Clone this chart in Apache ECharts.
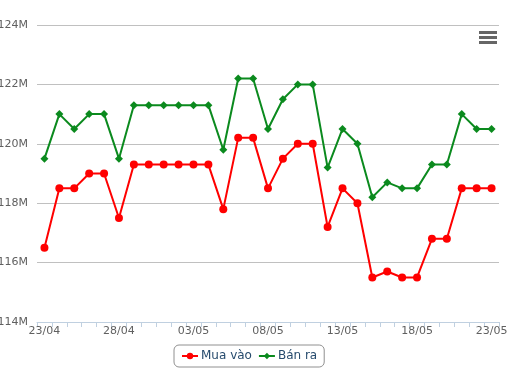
<!DOCTYPE html>
<html>
<head>
<meta charset="utf-8">
<script src="https://cdn.jsdelivr.net/npm/echarts@6/dist/echarts.min.js"></script>
<style>
  html, body { margin: 0; padding: 0; background: #fff; }
  #chart { width: 520px; height: 378px; }
</style>
</head>
<body>
<div id="chart"></div>
<script>
// ngày 23/04 -> 23/05
const categories = [
  "23/04", "24/04", "25/04", "26/04", "27/04", "28/04", "29/04", "30/04",
  "01/05", "02/05", "03/05", "04/05", "05/05", "06/05", "07/05", "08/05",
  "09/05", "10/05", "11/05", "12/05", "13/05", "14/05", "15/05", "16/05",
  "17/05", "18/05", "19/05", "20/05", "21/05", "22/05", "23/05",
];

// giá, đơn vị triệu (M)
const muaVao = [
  116.5, 118.5, 118.5, 119.0, 119.0, 117.5, 119.3, 119.3,
  119.3, 119.3, 119.3, 119.3, 117.8, 120.2, 120.2, 118.5,
  119.5, 120.0, 120.0, 117.2, 118.5, 118.0, 115.5, 115.7,
  115.5, 115.5, 116.8, 116.8, 118.5, 118.5, 118.5,
];
const banRa = [
  119.5, 121.0, 120.5, 121.0, 121.0, 119.5, 121.3, 121.3,
  121.3, 121.3, 121.3, 121.3, 119.8, 122.2, 122.2, 120.5,
  121.5, 122.0, 122.0, 119.2, 120.5, 120.0, 118.2, 118.7,
  118.5, 118.5, 119.3, 119.3, 121.0, 120.5, 120.5,
];

const Y_MIN = 114;
const Y_MAX = 124;
const Y_STEP = 2;

const chart = echarts.init(document.getElementById("chart"), null, { renderer: "canvas" });

const labelFont = {
  color: "#606060",
  fontSize: 11,
  fontFamily: "DejaVu Sans",
};

chart.setOption({
  animation: false,
  backgroundColor: "#fff",
  grid: { left: 37, right: 21, top: 25, bottom: 56, outerBoundsMode: "none", containLabel: false },
  legend: {
    left: 174,
    top: 345,
    padding: [5, 7, 5, 7],
    borderColor: "#909090",
    borderWidth: 1,
    borderRadius: 5,
    itemWidth: 16,
    itemHeight: 8,
    itemGap: 6,
    textStyle: { color: "#274b6d", fontSize: 12, fontFamily: "DejaVu Sans", padding: [0, 0, 0, -2] },
    data: ["Mua vào", "Bán ra"],
  },
  xAxis: {
    type: "category",
    boundaryGap: true,
    data: categories,
    axisLine: { lineStyle: { color: "#C0D0E0", width: 1 } },
    axisTick: { show: true, interval: 0, length: 5, lineStyle: { color: "#C0D0E0" } },
    axisLabel: { ...labelFont, interval: 4, margin: 4 },
    splitLine: { show: false },
  },
  yAxis: {
    type: "value",
    min: Y_MIN,
    max: Y_MAX,
    interval: Y_STEP,
    axisLine: { show: false },
    axisTick: { show: false },
    axisLabel: {
      ...labelFont,
      margin: 9,
      padding: [6, 0, 0, 0],
      formatter: (v) => v + "M",
    },
    splitLine: { lineStyle: { color: "#C0C0C0", width: 1 } },
  },
  graphic: [
    { type: "rect", shape: { x: 479, y: 31, width: 18, height: 3 }, style: { fill: "#666" } },
    { type: "rect", shape: { x: 479, y: 36, width: 18, height: 3 }, style: { fill: "#666" } },
    { type: "rect", shape: { x: 479, y: 41, width: 18, height: 3 }, style: { fill: "#666" } },
  ],
  series: [
    {
      name: "Mua vào",
      type: "line",
      data: muaVao,
      symbol: "circle",
      symbolSize: 8,
      showAllSymbol: true,
      itemStyle: { color: "#ff0000" },
      lineStyle: { color: "#ff0000", width: 2 },
    },
    {
      name: "Bán ra",
      type: "line",
      data: banRa,
      symbol: "diamond",
      symbolSize: 8,
      showAllSymbol: true,
      itemStyle: { color: "#0b8a1e" },
      lineStyle: { color: "#0b8a1e", width: 2 },
    },
  ],
});
</script>
</body>
</html>
